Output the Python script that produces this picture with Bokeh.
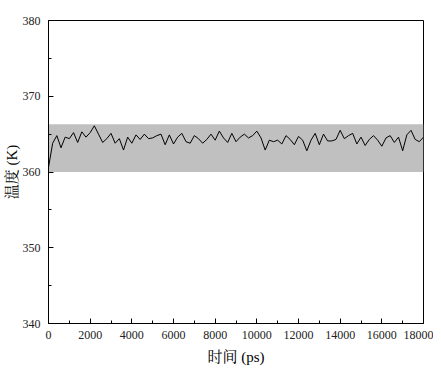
from bokeh.plotting import figure
from bokeh.models import BoxAnnotation, FixedTicker
from bokeh.embed import file_html
from bokeh.resources import INLINE

time_ps = list(range(0, 18001, 200))
temperature_k = [
    360.6, 363.8, 364.8, 363.2, 364.6, 364.4, 365.2, 363.9, 365.3, 364.6,
    365.2, 366.1, 365.0, 363.9, 364.4, 365.1, 363.8, 364.4, 362.9, 364.6,
    363.8, 364.9, 364.3, 365.0, 364.4, 364.5, 364.8, 365.0, 363.6, 364.9,
    363.7, 364.6, 365.1, 364.0, 363.8, 364.8, 364.4, 363.8, 364.3, 365.0,
    364.2, 365.4, 364.5, 363.9, 365.1, 364.0, 364.6, 365.0, 364.5, 364.8,
    365.4, 364.5, 362.9, 364.2, 364.0, 364.2, 363.7, 364.8, 364.3, 363.6,
    364.7, 364.2, 362.8, 364.2, 365.1, 363.6, 365.0, 364.1, 364.1, 364.3,
    365.5, 364.4, 364.8, 365.1, 363.7, 364.6, 363.5, 364.3, 364.8, 364.2,
    363.4, 364.5, 364.8, 363.9, 364.6, 362.8, 364.9, 365.5, 364.3, 364.0,
    364.6,
]
band_low, band_high = 360.0, 366.3
x_ticks = list(range(0, 18001, 2000))
y_ticks = [340, 350, 360, 370, 380]

SERIF = "Liberation Serif, 'Noto Serif CJK SC', 'Noto Sans CJK SC', serif"

p = figure(width=433, height=370, x_range=(0, 18000), y_range=(340, 380),
           output_backend="svg", toolbar_location=None,
           min_border_left=47, min_border_right=10, min_border_top=20,
           min_border_bottom=47)
p.background_fill_color = "white"
p.border_fill_color = "white"
p.grid.visible = False
p.outline_line_color = "black"
p.outline_line_width = 1

p.add_layout(BoxAnnotation(bottom=band_low, top=band_high, fill_color="#c0c0c0",
                           fill_alpha=1.0, line_color=None, level="underlay"))
p.line(time_ps, temperature_k, line_color="black", line_width=1)

p.xaxis.ticker = FixedTicker(ticks=x_ticks, minor_ticks=list(range(1000, 18000, 2000)))
p.yaxis.ticker = FixedTicker(ticks=y_ticks, minor_ticks=[345, 355, 365, 375])

for ax in (p.xaxis[0], p.yaxis[0]):
    ax.axis_line_color = "black"
    ax.major_tick_in = 5
    ax.major_tick_out = 0
    ax.minor_tick_in = 3
    ax.minor_tick_out = 0
    ax.major_tick_line_color = "black"
    ax.minor_tick_line_color = "black"
    ax.major_label_text_font = SERIF
    ax.major_label_text_font_size = "12px"
    ax.major_label_text_color = "#222222"
    ax.axis_label_text_font = SERIF
    ax.axis_label_text_font_size = "15px"
    ax.axis_label_text_font_style = "normal"
    ax.axis_label_text_color = "black"

p.xaxis.axis_label = "时间 (ps)"
p.yaxis.axis_label = "温度 (K)"
p.xaxis.major_label_standoff = 7
p.xaxis.axis_label_standoff = 7
p.yaxis.major_label_standoff = 8
p.yaxis.axis_label_standoff = 0

open("out.html", "w").write(file_html(p, INLINE))
